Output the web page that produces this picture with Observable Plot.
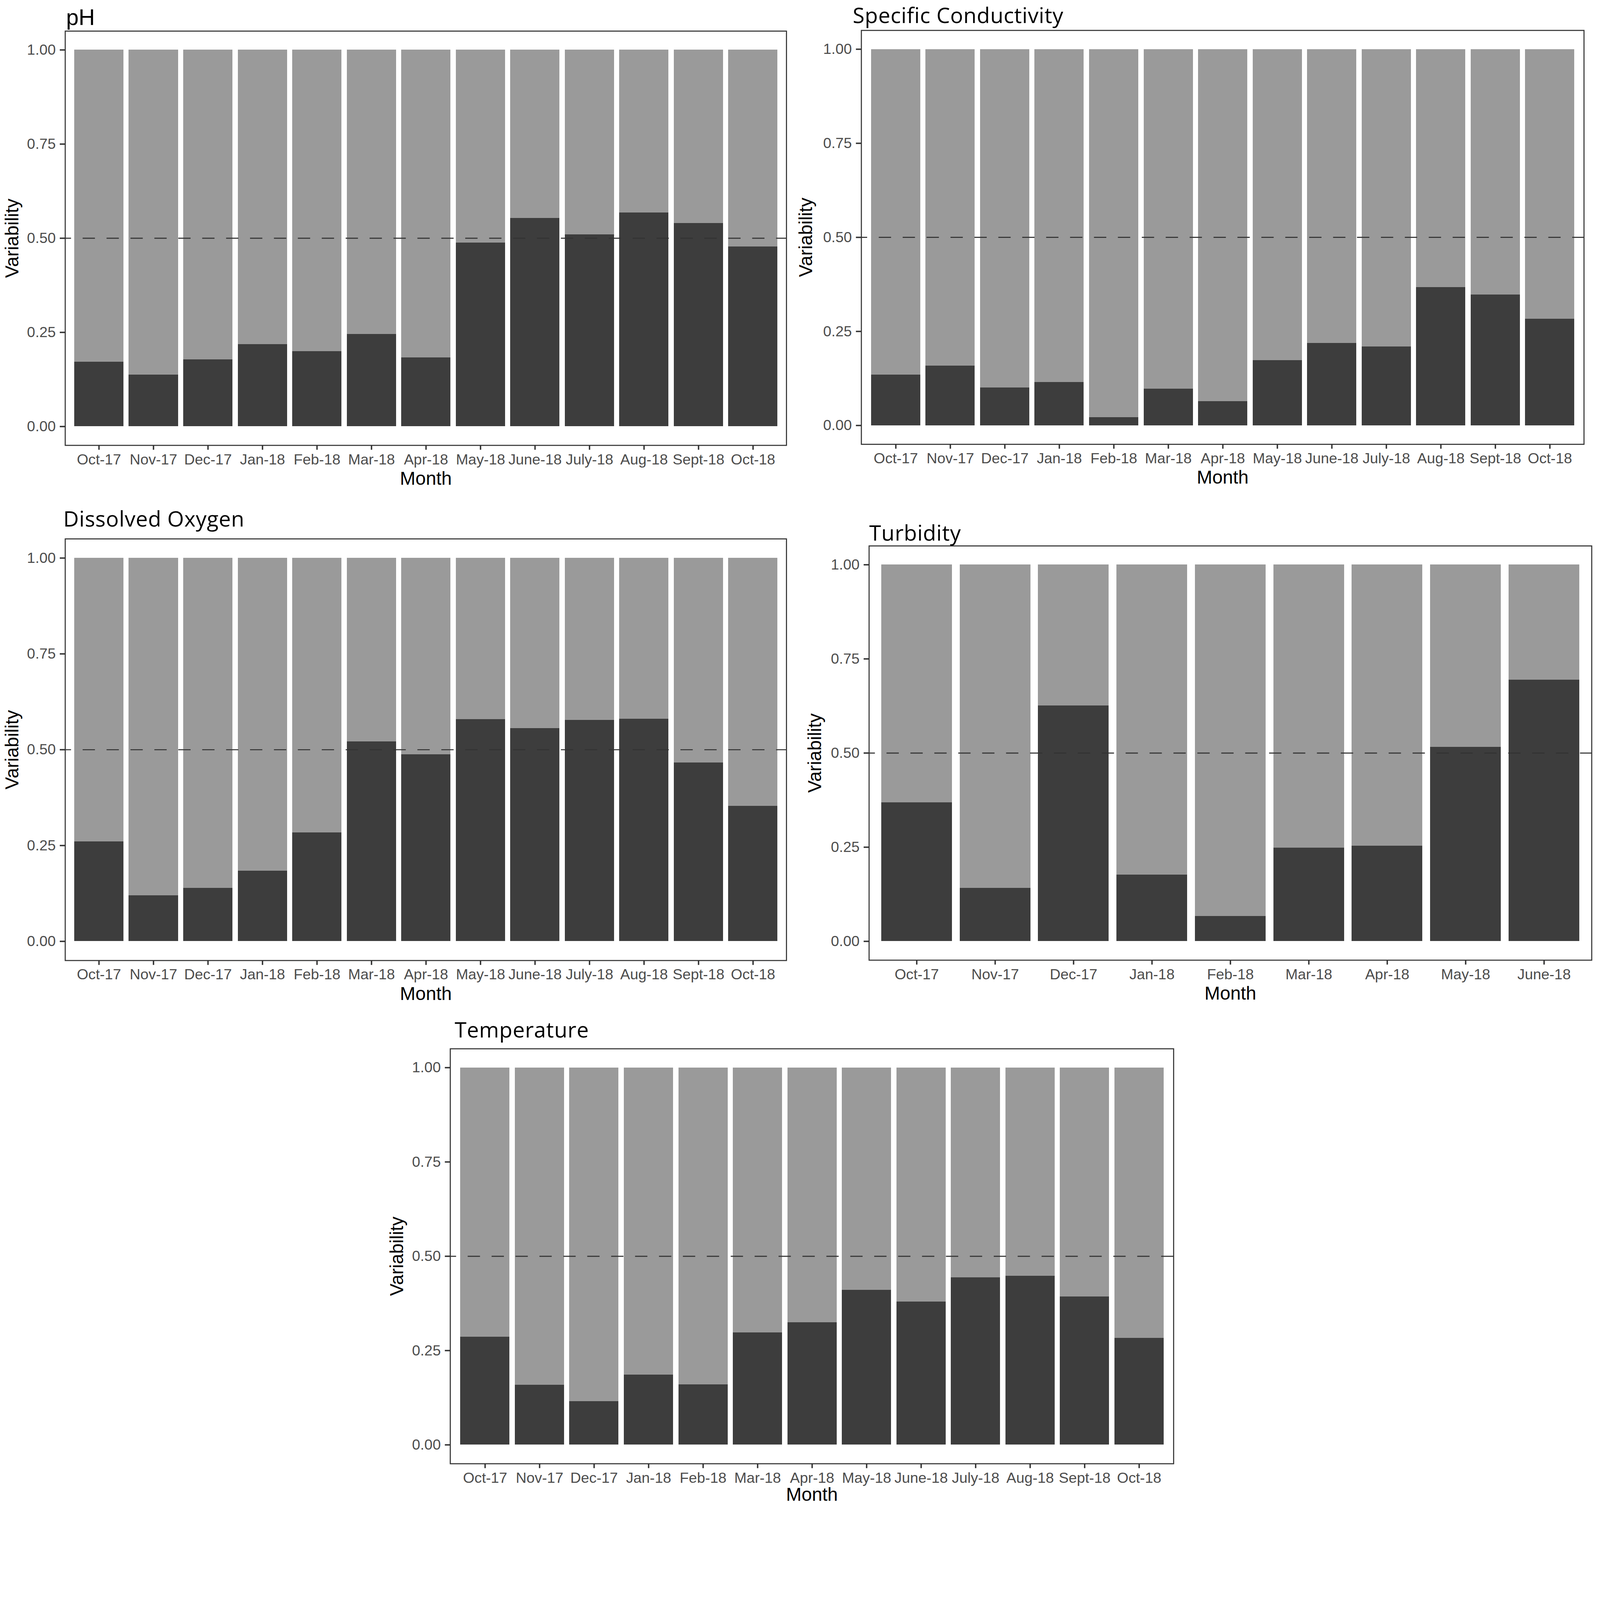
<!DOCTYPE html>
<html>
<head>
<meta charset="utf-8">
<script src="https://cdn.jsdelivr.net/npm/d3@7"></script>
<script src="https://cdn.jsdelivr.net/npm/@observablehq/plot@0.6"></script>
<style>
  html, body { margin: 0; padding: 0; background: #ffffff; overflow: hidden; }
  #page { position: relative; width: 4550px; height: 4283px; background: #ffffff; overflow: hidden; transform-origin: 0 0; }
  .panel { position: absolute; }
  .title { position: absolute; line-height: 1; white-space: nowrap; color: #000; }
</style>
</head>
<body>
<div id="page"></div>
<script>
// ---------- data ----------
const months = ["Oct-17","Nov-17","Dec-17","Jan-18","Feb-18","Mar-18","Apr-18","May-18","June-18","July-18","Aug-18","Sept-18","Oct-18"];
const turbidityMonths = ["Oct-17","Nov-17","Dec-17","Jan-18","Feb-18","Mar-18","Apr-18","May-18","June-18"];

const phValues           = [0.172,0.137,0.178,0.218,0.200,0.245,0.183,0.488,0.553,0.510,0.568,0.540,0.478];
const conductivityValues = [0.135,0.159,0.100,0.115,0.022,0.097,0.064,0.173,0.219,0.210,0.367,0.348,0.283];
const oxygenValues       = [0.260,0.120,0.139,0.184,0.284,0.521,0.488,0.579,0.556,0.577,0.580,0.466,0.353];
const turbidityValues    = [0.369,0.141,0.626,0.177,0.067,0.248,0.253,0.516,0.694];
const temperatureValues  = [0.286,0.159,0.115,0.186,0.160,0.298,0.325,0.411,0.379,0.444,0.448,0.393,0.283];

const yTicks = [0, 0.25, 0.5, 0.75, 1];
const threshold = [0.5];
const parts = ["low", "high"];
const partColors = ["#3d3d3d", "#9a9a9a"];
const xTitle = "Month";
const yTitle = "Variability";

// ---------- layout ----------
const mL = 185, mR = 12, mT = 12, mB = 140;

const panels = [
  {title: "pH", font: "'Liberation Sans', Arial, sans-serif", fontSize: 64, k: 0.8465, ls: 0,
   titleX: 188, titleBase: 71, months: months, values: phValues,
   L: 185, T: 88, W: 2051, H: 1178, yLabelDx: -150, xLabelDy: 95},
  {title: "Specific Conductivity", font: "'Open Sans', sans-serif", fontSize: 61, k: 0.888, ls: 0.8,
   titleX: 2425, titleBase: 66, months: months, values: conductivityValues,
   L: 2449, T: 86, W: 2055, H: 1177, yLabelDx: -157, xLabelDy: 95},
  {title: "Dissolved Oxygen", font: "'Open Sans', sans-serif", fontSize: 61, k: 0.888, ls: 0.8,
   titleX: 180, titleBase: 1497, months: months, values: oxygenValues,
   L: 185, T: 1532, W: 2051, H: 1199, yLabelDx: -150, xLabelDy: 95},
  {title: "Turbidity", font: "'Open Sans', sans-serif", fontSize: 61, k: 0.888, ls: 0.8,
   titleX: 2472, titleBase: 1537, months: turbidityMonths, values: turbidityValues,
   L: 2471, T: 1552, W: 2055, H: 1178, yLabelDx: -153, xLabelDy: 95},
  {title: "Temperature", font: "'Open Sans', sans-serif", fontSize: 61, k: 0.888, ls: 0.8,
   titleX: 1293, titleBase: 2950, months: months, values: temperatureValues,
   L: 1280, T: 2982, W: 2057, H: 1180, yLabelDx: -151, xLabelDy: 88}
];

const page = document.getElementById("page");

// fit the 4550 x 4283 layout into whatever the viewport actually is
function fit() {
  const s = Math.min(window.innerWidth / 4550, window.innerHeight / 4283);
  page.style.transform = (Math.abs(s - 1) > 0.001) ? `scale(${s})` : "none";
}
fit();
window.addEventListener("resize", fit);

function makePanel(p) {
  const rows = p.months.flatMap((m, i) => [
    {month: m, part: parts[0], value: p.values[i]},
    {month: m, part: parts[1], value: 1 - p.values[i]}
  ]);
  return Plot.plot({
    width: p.W + mL + mR,
    height: p.H + mT + mB,
    marginLeft: mL, marginRight: mR, marginTop: mT, marginBottom: mB,
    style: {fontFamily: "'Liberation Sans', Arial, sans-serif", background: "transparent", overflow: "visible"},
    x: {type: "band", domain: p.months, paddingInner: 0.1, paddingOuter: 0.15, axis: null},
    y: {domain: [-0.05, 1.05], axis: null},
    color: {domain: parts, range: partColors},
    marks: [
      Plot.barY(rows, {x: "month", y: "value", fill: "part", shapeRendering: "crispEdges"}),
      Plot.ruleY(threshold, {stroke: "#333333", strokeWidth: 3, strokeDasharray: "35,33", strokeDashoffset: 18}),
      Plot.frame({stroke: "#333333", strokeWidth: 3}),
      Plot.axisY(yTicks, {tickFormat: d3.format(".2f"), tickSize: 15, tickPadding: 12, fontSize: 42,
        stroke: "#333333", fill: "#4d4d4d", strokeWidth: 4, label: null}),
      Plot.axisX({tickSize: 13, tickPadding: 11, fontSize: 42,
        stroke: "#333333", fill: "#4d4d4d", strokeWidth: 4, label: null}),
      Plot.text([xTitle], {text: d => d, frameAnchor: "bottom", textAnchor: "middle", lineAnchor: "middle",
        dy: p.xLabelDy, fontSize: 53, fill: "#000000"}),
      Plot.text([yTitle], {text: d => d, frameAnchor: "left", textAnchor: "middle", lineAnchor: "middle",
        dx: p.yLabelDx, rotate: -90, fontSize: 53, fill: "#000000"})
    ]
  });
}

for (const p of panels) {
  const holder = document.createElement("div");
  holder.className = "panel";
  holder.style.left = (p.L - mL) + "px";
  holder.style.top = (p.T - mT) + "px";
  holder.appendChild(makePanel(p));
  page.appendChild(holder);

  const t = document.createElement("div");
  t.className = "title";
  t.textContent = p.title;
  t.style.fontFamily = p.font;
  t.style.fontSize = p.fontSize + "px";
  t.style.letterSpacing = p.ls + "px";
  t.style.left = p.titleX + "px";
  t.style.top = (p.titleBase - p.k * p.fontSize) + "px";
  page.appendChild(t);
}
</script>
</body>
</html>
